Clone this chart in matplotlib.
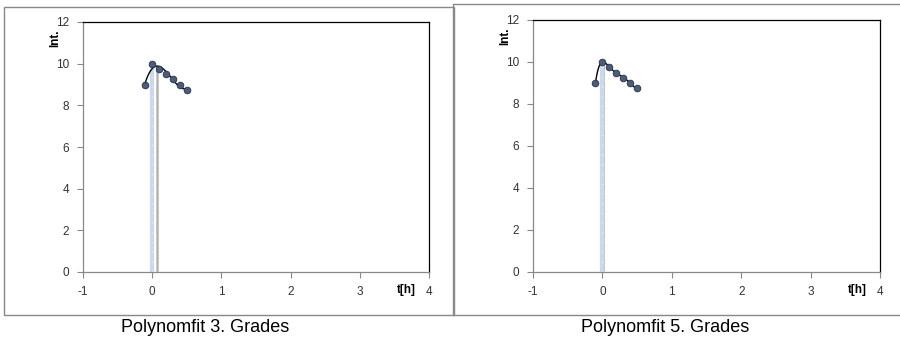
import numpy as np
import matplotlib
matplotlib.use("Agg")
import matplotlib.pyplot as plt
from matplotlib.patches import Rectangle

# measured points (same for both panels)
t_h = [-0.1, 0.0, 0.1, 0.2, 0.3, 0.4, 0.5]
intensity = [9.0, 10.0, 9.75, 9.5, 9.25, 9.0, 8.75]
fit_degrees = [3, 5]
captions = ["Polynomfit 3. Grades", "Polynomfit 5. Grades"]
x_ticks = [-1, 0, 1, 2, 3, 4]
y_ticks = [0, 2, 4, 6, 8, 10, 12]

plt.rcParams['font.family'] = ['Liberation Sans', 'DejaVu Sans']
plt.rcParams['axes.unicode_minus'] = False

fig = plt.figure(figsize=(9, 3.43), dpi=100)

# panel frames (pixel boxes of the original chart objects)
frames = [(4, 7, 450, 308), (453, 4, 450, 311)]
plot_areas = [(83, 22, 346, 250), (533, 20, 347, 252)]
caption_x = [205, 665]

W, H = 900, 343
for i in range(2):
    fx, fy, fw, fh = frames[i]
    fig.patches.append(Rectangle((fx / W, 1 - (fy + fh) / H), fw / W, fh / H,
                                 transform=fig.transFigure, fill=False,
                                 edgecolor='#888888', linewidth=1.0))

    px, py, pw, ph = plot_areas[i]
    ax = fig.add_axes([px / W, 1 - (py + ph) / H, pw / W, ph / H])

    x = np.array(t_h)
    y = np.array(intensity)
    coef = np.polyfit(x, y, fit_degrees[i])
    xs = np.linspace(x.min(), x.max(), 300)
    ys = np.polyval(coef, xs)

    # vertical marker lines: fit maximum (gray) and data maximum (blue)
    x_dmax = x[np.argmax(y)]
    x_fmax = xs[np.argmax(ys)]
    ax.plot([x_fmax, x_fmax], [0, ys.max()], color='#b4b4b4',
            linewidth=1.8, zorder=2, solid_capstyle='butt')
    ax.plot([x_dmax, x_dmax], [0, np.polyval(coef, x_dmax)], color='#c9d8ec',
            linewidth=3, zorder=2.5, solid_capstyle='butt')
    ax.plot([x_dmax, x_dmax], [0, np.polyval(coef, x_dmax)], color='#e4ecf6',
            linewidth=1, linestyle=(0, (1, 6)), zorder=2.6)

    ax.plot(xs, ys, color='black', linewidth=1.0, zorder=3)
    ax.plot(x, y, linestyle='none', marker='o', markersize=4.8,
            markerfacecolor='#4a5d7c', markeredgecolor='#2a3344',
            markeredgewidth=0.6, zorder=4)

    ax.set_xlim(-1, 4)
    ax.set_ylim(0, 12)
    ax.set_xticks(x_ticks)
    ax.set_yticks(y_ticks)
    ax.tick_params(direction='out', length=4, width=0.8, color='#888888',
                   labelsize=8.5, labelcolor='#333333', pad=6)
    ax.spines['left'].set_color('#888888')
    ax.spines['bottom'].set_color('#888888')
    ax.spines['top'].set_color('black')
    ax.spines['right'].set_color('black')
    for s in ax.spines.values():
        s.set_linewidth(0.9)

    ax.text(-0.08, 0.935, "Int.", transform=ax.transAxes, rotation=90,
            ha='center', va='center', fontsize=8.5, fontweight='bold')
    ax.text(0.935, -0.07, "t[h]", transform=ax.transAxes,
            ha='center', va='center', fontsize=8.5, fontweight='bold')

    fig.text(caption_x[i] / W, 1 - 327 / H, captions[i], ha='center',
             va='center', fontsize=13)

fig.savefig("out.png", dpi=100)
